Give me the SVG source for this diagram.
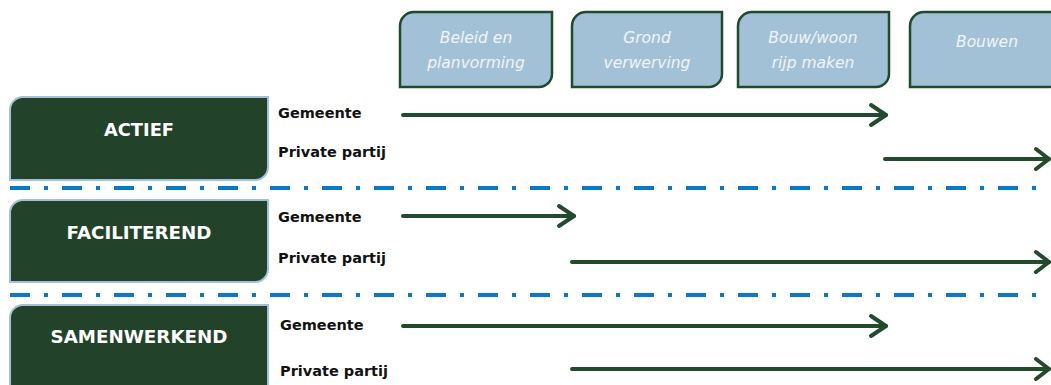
<svg xmlns="http://www.w3.org/2000/svg" width="1051" height="385" viewBox="0 0 1051 385">
<defs>
<style>
.hbox{fill:#a3c1d6;stroke:#1f4a2c;stroke-width:2.5}
.htxt{font-family:"DejaVu Sans",sans-serif;font-style:oblique;font-size:15.5px;fill:#f1f5f8;text-anchor:middle}
.lbox{fill:#22432a;stroke:#a3c1d6;stroke-width:2}
.ltxt{font-family:"DejaVu Sans",sans-serif;font-weight:bold;font-size:17px;fill:#ffffff;text-anchor:middle}
.lab{font-family:"DejaVu Sans",sans-serif;font-weight:bold;font-size:14.5px;fill:#111111}
.sep{stroke:#0a79c9;stroke-width:4;stroke-dasharray:20 14 4 14;fill:none}
.arr{stroke:#224a2c;stroke-width:4;fill:none;stroke-linecap:round;stroke-linejoin:round}
</style>
</defs>
<g id="phase-beleid">
<path class="hbox" d="M414 12 H552 V74 A13 13 0 0 1 539 87 H400 V26 A14 14 0 0 1 414 12 Z"/>
<text class="htxt" x="476" y="43">Beleid en</text>
<text class="htxt" x="476" y="68">planvorming</text>
</g>
<g id="phase-grond">
<path class="hbox" d="M586 12 H722 V74 A13 13 0 0 1 709 87 H572 V26 A14 14 0 0 1 586 12 Z"/>
<text class="htxt" x="647" y="43">Grond</text>
<text class="htxt" x="647" y="68">verwerving</text>
</g>
<g id="phase-bouwrijp">
<path class="hbox" d="M752 12 H889 V74 A13 13 0 0 1 876 87 H738 V26 A14 14 0 0 1 752 12 Z"/>
<text class="htxt" x="813" y="43">Bouw/woon</text>
<text class="htxt" x="813" y="68">rijp maken</text>
</g>
<g id="phase-bouwen">
<path class="hbox" d="M924 12 H1062 V74 A13 13 0 0 1 1049 87 H910 V26 A14 14 0 0 1 924 12 Z"/>
<text class="htxt" x="987" y="47">Bouwen</text>
</g>
<g id="separators">
<line class="sep" x1="10" y1="188" x2="1046" y2="188"/>
<line class="sep" x1="10" y1="295" x2="1046" y2="295"/>
</g>
<g id="role-actief">
<path class="lbox" d="M23 97 H268 V167 A13 13 0 0 1 255 180 H10 V110 A13 13 0 0 1 23 97 Z"/>
<text class="ltxt" x="139" y="136" textLength="70" lengthAdjust="spacingAndGlyphs">ACTIEF</text>
<text class="lab" x="278" y="118">Gemeente</text>
<text class="lab" x="278" y="157">Private partij</text>
</g>
<g id="role-faciliterend">
<path class="lbox" d="M23 200 H268 V269 A13 13 0 0 1 255 282 H10 V213 A13 13 0 0 1 23 200 Z"/>
<text class="ltxt" x="139" y="239" textLength="145" lengthAdjust="spacingAndGlyphs">FACILITEREND</text>
<text class="lab" x="278" y="222">Gemeente</text>
<text class="lab" x="278" y="263">Private partij</text>
</g>
<g id="role-samenwerkend">
<path class="lbox" d="M23 305 H268 V384 A13 13 0 0 1 255 397 H10 V318 A13 13 0 0 1 23 305 Z"/>
<text class="ltxt" x="139" y="343" textLength="177" lengthAdjust="spacingAndGlyphs">SAMENWERKEND</text>
<text class="lab" x="280" y="330">Gemeente</text>
<text class="lab" x="280" y="376">Private partij</text>
</g>
<g id="connectors">
<line class="arr" x1="403" y1="115" x2="886" y2="115"/>
<polyline class="arr" points="871,105 886,115 871,125"/>
<line class="arr" x1="885" y1="159" x2="1049" y2="159"/>
<polyline class="arr" points="1036,149 1049,159 1036,169"/>
<line class="arr" x1="403" y1="216" x2="574" y2="216"/>
<polyline class="arr" points="559,206 574,216 559,226"/>
<line class="arr" x1="572" y1="262" x2="1049" y2="262"/>
<polyline class="arr" points="1036,252 1049,262 1036,272"/>
<line class="arr" x1="403" y1="326" x2="886" y2="326"/>
<polyline class="arr" points="871,316 886,326 871,336"/>
<line class="arr" x1="572" y1="369" x2="1049" y2="369"/>
<polyline class="arr" points="1036,359 1049,369 1036,379"/>
</g>
</svg>
